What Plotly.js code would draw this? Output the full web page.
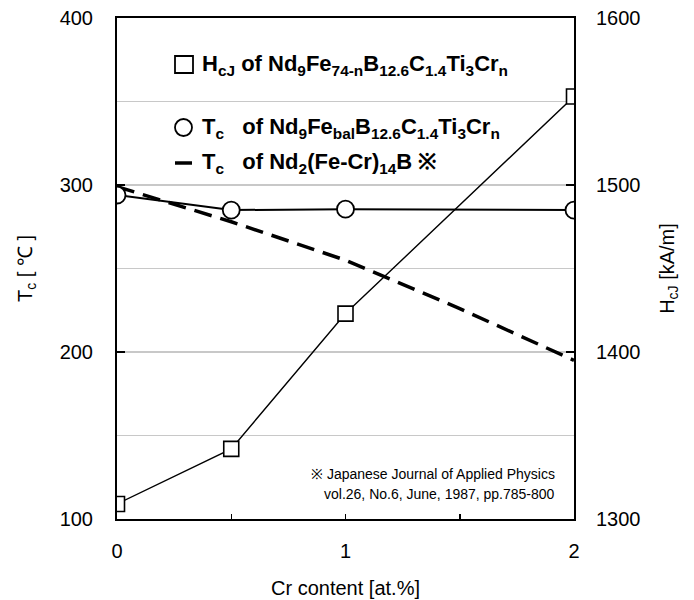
<!DOCTYPE html>
<html>
<head>
<meta charset="utf-8">
<script src="https://cdn.plot.ly/plotly-3.0.1.min.js"></script>
<style>html,body{margin:0;padding:0;background:#fff;}#chart{width:694px;height:600px;}</style>
</head>
<body>
<div id="chart"></div>
<script>
// ---- data ----
const crContent = [0, 0.5, 1, 2];                 // Cr content [at.%]
const hcjValues = [1309, 1342, 1423, 1553];        // HcJ [kA/m]
const tcMeasured = [294, 285, 285.5, 285];         // Tc [°C] of Nd9FebalB12.6C1.4Ti3Crn
const crReference = [0, 0.5, 1, 1.5, 2];           // Cr content for literature curve
const tcReference = [299, 278, 255, 226, 195];     // Tc of Nd2(Fe-Cr)14B (ref.)

const xTickVals = [0, 1, 2];
const xTickText = ['0', '1', '2'];
const yTickVals = [100, 200, 300, 400];
const y2TickVals = [1300, 1400, 1500, 1600];

const legendLabels = [
  'H<sub>cJ</sub> of Nd<sub>9</sub>Fe<sub>74-n</sub>B<sub>12.6</sub>C<sub>1.4</sub>Ti<sub>3</sub>Cr<sub>n</sub>',
  'T<sub>c</sub>\u00a0\u00a0\u00a0of Nd<sub>9</sub>Fe<sub>bal</sub>B<sub>12.6</sub>C<sub>1.4</sub>Ti<sub>3</sub>Cr<sub>n</sub>',
  'T<sub>c</sub>\u00a0\u00a0\u00a0of Nd<sub>2</sub>(Fe-Cr)<sub>14</sub>B \u203B'
];
const noteLines = [
  '\u203B Japanese Journal of Applied Physics',
  'vol.26, No.6, June, 1987, pp.785-800'
];

// ---- layout helpers (pixel -> paper) ----
const W = 694, H = 600;
const PL = 117, PR = 574, PT = 18, PB = 519;
const px = v => (v - PL) / (PR - PL);
const py = v => (PB - v) / (PB - PT);
const FONT = 'Liberation Sans, Arial, Helvetica, sans-serif';

const traces = [
  {
    x: crReference, y: tcReference, yaxis: 'y', mode: 'lines',
    line: {color: '#000', width: 3.5, dash: '18px,9px'}, hoverinfo: 'skip'
  },
  {
    x: crContent, y: tcMeasured, yaxis: 'y', mode: 'lines+markers',
    line: {color: '#000', width: 2},
    marker: {symbol: 'circle', size: 17, color: '#fff', line: {color: '#000', width: 1.8}}
  },
  {
    x: crContent, y: hcjValues, yaxis: 'y2', mode: 'lines+markers',
    line: {color: '#000', width: 1.4},
    marker: {symbol: 'square', size: 15, color: '#fff', line: {color: '#000', width: 1.6}}
  }
];

const annotations = [];
const legendY = [64.5, 127.5, 163];
legendLabels.forEach((t, i) => {
  annotations.push({
    xref: 'paper', yref: 'paper', x: px(200), y: py(legendY[i]),
    xanchor: 'left', yanchor: 'middle', showarrow: false, text: '<b>' + t + '</b>',
    font: {family: FONT, size: 22, color: '#000'}
  });
});
const noteY = [474, 494];
noteLines.forEach((t, i) => {
  annotations.push({
    xref: 'paper', yref: 'paper', x: px(557), y: py(noteY[i]),
    xanchor: 'right', yanchor: 'middle', showarrow: false, text: t,
    font: {family: FONT, size: 14, color: '#000'}
  });
});

const shapes = [
  {type: 'rect', xref: 'paper', yref: 'paper', x0: px(175), x1: px(193), y0: py(56), y1: py(73),
   line: {color: '#000', width: 1.8}, fillcolor: '#fff'},
  {type: 'circle', xref: 'paper', yref: 'paper', x0: px(175), x1: px(192), y0: py(119), y1: py(136),
   line: {color: '#000', width: 1.8}, fillcolor: '#fff'},
  {type: 'line', xref: 'paper', yref: 'paper', x0: px(175), x1: px(192), y0: py(163), y1: py(163),
   line: {color: '#000', width: 3.5}}
];

const layout = {
  width: W, height: H, autosize: false,
  margin: {l: PL, r: W - PR, t: PT, b: H - PB, pad: 0},
  paper_bgcolor: '#fff', plot_bgcolor: '#fff',
  showlegend: false,
  font: {family: FONT, size: 20, color: '#000'},
  xaxis: {
    range: [0, 2], tickvals: xTickVals, ticktext: xTickText,
    ticks: 'inside', ticklen: 5, tickwidth: 1.5, tickcolor: '#000',
    minor: {dtick: 0.5, tick0: 0, ticks: 'inside', ticklen: 5, tickwidth: 1.5, tickcolor: '#000', showgrid: false},
    showline: true, linecolor: '#000', linewidth: 2, mirror: true,
    showgrid: false, zeroline: false, ticklabelstandoff: 13,
    tickfont: {family: FONT, size: 20},
    title: {text: 'Cr content [at.%]', font: {family: FONT, size: 20}, standoff: 20}
  },
  yaxis: {
    range: [100, 400], tickvals: yTickVals,
    ticks: 'inside', ticklen: 8, tickwidth: 1.5, tickcolor: '#000',
    showline: true, linecolor: '#000', linewidth: 2,
    showgrid: false, zeroline: false, ticklabelstandoff: 18,
    minor: {dtick: 50, tick0: 100, showgrid: true, gridcolor: '#c8c8c8', gridwidth: 1.5, ticks: ''},
    tickfont: {family: FONT, size: 20},
    title: {text: 'T<sub>c</sub> [ \u2103 ]', font: {family: FONT, size: 20}, standoff: 22}
  },
  yaxis2: {
    overlaying: 'y', side: 'right',
    range: [1300, 1600], tickvals: y2TickVals,
    ticks: 'inside', ticklen: 8, tickwidth: 1.5, tickcolor: '#000',
    showline: true, linecolor: '#000', linewidth: 2,
    showgrid: false, zeroline: false, ticklabelstandoff: 16,
    tickfont: {family: FONT, size: 20},
    title: {text: 'H<sub>cJ</sub> [kA/m]', font: {family: FONT, size: 20}, standoff: 20}
  },
  annotations: annotations,
  shapes: shapes
};

Plotly.newPlot('chart', traces, layout, {displayModeBar: false, staticPlot: true});
</script>
</body>
</html>
